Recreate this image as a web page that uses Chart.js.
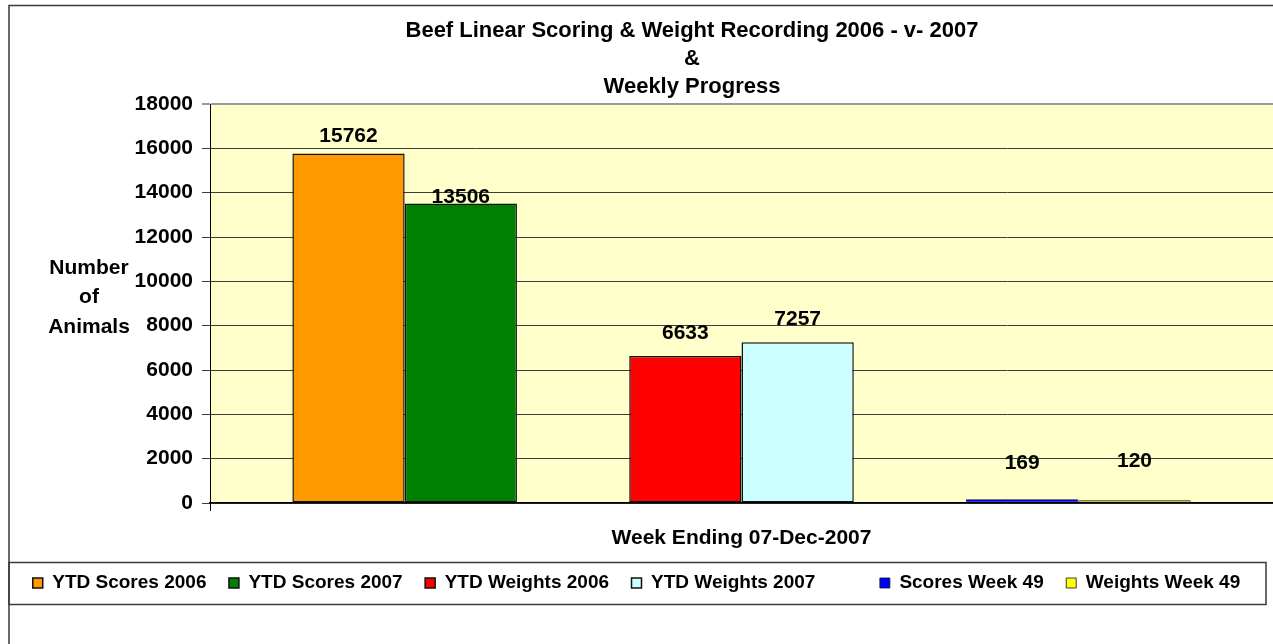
<!DOCTYPE html>
<html>
<head>
<meta charset="utf-8">
<script src="https://cdn.jsdelivr.net/npm/chart.js@4.4.0/dist/chart.umd.min.js"></script>
<style>
html,body{margin:0;padding:0;background:#fff;overflow:hidden}
canvas{display:block}
</style>
</head>
<body>
<canvas id="c" width="1273" height="644"></canvas>
<script>
// ---- data ----
const categories = [''];
const seriesNames = ['YTD Scores 2006', 'YTD Scores 2007', 'YTD Weights 2006', 'YTD Weights 2007', 'Scores Week 49', 'Weights Week 49'];
const ytdScores2006 = [15762];
const ytdScores2007 = [13506];
const ytdWeights2006 = [6633];
const ytdWeights2007 = [7257];
const scoresWeek49 = [169];
const weightsWeek49 = [120];
const yTickValues = [0, 2000, 4000, 6000, 8000, 10000, 12000, 14000, 16000, 18000];
const titleLines = ['Beef Linear Scoring & Weight Recording 2006 - v- 2007', '&', 'Weekly Progress'];
const xAxisTitle = 'Week Ending 07-Dec-2007';
const yAxisTitleLines = ['Number', 'of', 'Animals'];

// ---- styles ----
const FONT = "'Liberation Sans', Arial, sans-serif";
const seriesColors = ['#FF9900', '#008000', '#FF0000', '#CCFFFF', '#0000FF', '#FFFF00'];
const labelLift = [17, 6, 23, 23, 36, 39];   // data-label offset above each bar (px)

const seriesValues = [ytdScores2006, ytdScores2007, ytdWeights2006, ytdWeights2007, scoresWeek49, weightsWeek49];
const datasets = [];
seriesValues.forEach((vals, i) => {
  datasets.push({
    label: seriesNames[i], data: vals, backgroundColor: seriesColors[i],
    borderColor: '#111',
    borderWidth: c => (c.type === 'data' && c.raw < 1000) ? 0.8 : 1.5,
    borderSkipped: false, realIndex: i
  });
  if (i === 1 || i === 3) {
    datasets.push({
      label: '', data: categories.map(() => null), backgroundColor: 'rgba(0,0,0,0)',
      borderColor: 'rgba(0,0,0,0)', borderWidth: 0, spacer: i === 1 ? 1 : 2
    });
  }
});

const decor = {
  id: 'decor',
  beforeDraw(chart) {
    const {ctx, chartArea: a, width, height} = chart;
    ctx.save();
    ctx.fillStyle = '#fff';
    ctx.fillRect(0, 0, width, height);
    ctx.strokeStyle = '#3a3a3a';
    ctx.lineWidth = 1.5;
    ctx.beginPath();
    ctx.moveTo(9, height + 5); ctx.lineTo(9, 5.5); ctx.lineTo(width + 5, 5.5);
    ctx.stroke();
    ctx.fillStyle = '#FFFFCC';
    ctx.fillRect(a.left, a.top, a.right - a.left, a.bottom - a.top);
    ctx.restore();
  },
  afterDatasetsDraw(chart) {
    const {ctx} = chart;
    ctx.save();
    ctx.fillStyle = '#000';
    ctx.font = 'bold 21px ' + FONT;
    ctx.textAlign = 'center';
    ctx.textBaseline = 'middle';
    chart.data.datasets.forEach((ds, di) => {
      if (ds.realIndex === undefined) return;
      const meta = chart.getDatasetMeta(di);
      meta.data.forEach((bar, j) => {
        const v = ds.data[j];
        if (v == null) return;
        ctx.fillText(String(v), bar.x, bar.y - labelLift[ds.realIndex]);
      });
    });
    ctx.restore();
  },
  afterDraw(chart) {
    const {ctx, chartArea: a} = chart;
    ctx.save();
    ctx.fillStyle = '#000';
    ctx.textAlign = 'center';
    ctx.textBaseline = 'middle';
    ctx.font = 'bold 22px ' + FONT;
    titleLines.forEach((t, i) => ctx.fillText(t, 692, 31 + i * 28));
    ctx.font = 'bold 21px ' + FONT;
    const cy = (a.top + a.bottom) / 2 - 6;
    yAxisTitleLines.forEach((t, i) => ctx.fillText(t, 89, cy + (i - 1) * 29.5));
    const lg = chart.legend;
    if (lg && lg.legendHitBoxes && lg.legendHitBoxes.length) {
      const hb = lg.legendHitBoxes[0];
      const my = hb.top + hb.height / 2;
      ctx.strokeStyle = '#3a3a3a';
      ctx.lineWidth = 1.5;
      ctx.strokeRect(9, Math.round(my) - 20.5, 1257, 42);
    }
    ctx.restore();
  }
};

new Chart(document.getElementById('c'), {
  type: 'bar',
  data: { labels: categories, datasets },
  options: {
    responsive: false,
    animation: false,
    devicePixelRatio: 1,
    layout: { padding: { top: 104, bottom: 41.5, left: 0, right: 0 } },
    datasets: { bar: { categoryPercentage: 0.845, barPercentage: 1.0 } },
    scales: {
      x: {
        grid: { display: true, drawOnChartArea: false, tickLength: 8, color: '#000', offset: true },
        border: { display: true, color: '#000', width: 1.5 },
        ticks: { display: false },
        title: {
          display: true, text: xAxisTitle, color: '#000',
          font: { family: FONT, size: 21, weight: 'bold' },
          padding: { top: 14.8, bottom: 0 }
        }
      },
      y: {
        min: 0, max: 18000,
        afterBuildTicks: s => { s.ticks = yTickValues.map(v => ({ value: v })); },
        afterFit: s => { s.width = 210; },
        grid: {
          color: c => (c.tick && c.tick.value === 18000) ? '#9a9a9a' : '#3c3c3c',
          lineWidth: c => (c.tick && c.tick.value === 18000) ? 2 : 1,
          tickLength: 8
        },
        border: { display: true, color: '#000', width: 1 },
        ticks: {
          color: '#000', padding: 9,
          font: { family: FONT, size: 21, weight: 'bold' },
          callback: v => String(v)
        }
      }
    },
    plugins: {
      title: { display: false },
      tooltip: { enabled: false },
      legend: {
        position: 'bottom',
        labels: {
          boxWidth: 10, boxHeight: 10, padding: 22.5, color: '#000',
          font: { family: FONT, size: 19, weight: 'bold' },
          filter: (item, data) => data.datasets[item.datasetIndex].spacer !== 1
        }
      }
    }
  },
  plugins: [decor]
});
</script>
</body>
</html>
